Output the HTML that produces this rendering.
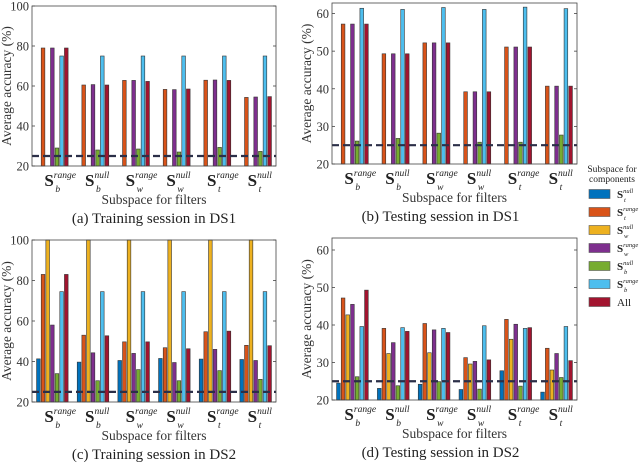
<!DOCTYPE html>
<html><head><meta charset="utf-8"><style>
body{margin:0;background:#fff;}
svg{display:block;font-family:"Liberation Serif","DejaVu Serif",serif;}
</style></head><body>
<svg id="c" width="640" height="468" xmlns="http://www.w3.org/2000/svg" font-family="Liberation Serif, DejaVu Serif, serif"></svg>
<script>
const categories = ['range|b','null|b','range|w','null|w','range|t','null|t'];
const seriesNames = ['null|t','range|t','null|w','range|w','null|b','range|b','All'];
const seriesColors = ['#0072BD','#D95319','#EDB120','#7E2F8E','#77AC30','#4DBEEE','#A2142F'];
const ticksA = [20,40,60,80,100];
const ticksB = [20,30,40,50,60];
const chance = 25;
const valsA = [[0,79,0,79,29,75,79],[0,60.5,0,60.7,28,75,60.5],[0,62.8,0,62.8,28.5,75,62.3],[0,58.3,0,58.2,27,75,58.5],[0,62.9,0,63,29.3,75,62.8],[0,54.3,0,54.5,27.3,75,54.7]];
const valsB = [[0,57.2,0,57.2,26.1,61.4,57.2],[0,49.3,0,49.3,26.8,61.1,49.3],[0,52.2,0,52.2,28.2,61.6,52.2],[0,39.2,0,39.2,25.8,61.1,39.2],[0,51.1,0,51.1,25.8,61.7,51.1],[0,40.7,0,40.7,27.7,61.3,40.7]];
const valsC = [[41.3,83,100,58,34,74.5,83],[39.7,53,100,44.3,30.5,74.5,52.7],[40.5,49.7,100,44,36,74.5,49.7],[41.5,46.8,100,39.5,30.5,74.5,46.3],[41.2,54.7,100,46,35.5,74.5,55],[41,48,100,40.5,31.2,74.5,47.8]];
const valsD = [[24.5,47.2,42.7,45.5,26.2,39.6,49.3],[23.1,39.1,32.4,35.3,23.8,39.3,38.3],[24.2,40.4,32.6,38.7,24.9,39.1,38],[22.8,31.3,29.6,30.3,22.9,39.8,30.7],[27.8,41.5,36.2,40.2,23.7,39.1,39.3],[22.1,33.8,28,32.4,26,39.6,30.5]];
const captions = ['(a) Training session in DS1','(b) Testing session in DS1','(c) Training session in DS2','(d) Testing session in DS2'];

const NS='http://www.w3.org/2000/svg';
const svg=document.getElementById('c');
function mk(t,a,p){const e=document.createElementNS(NS,t);for(const k in a)e.setAttribute(k,a[k]);(p||svg).appendChild(e);return e;}

function drawPanel(id,L,R,T,B,ymin,ymax,ticks,vals,cap){
  const g=mk('g',{});
  
  
  const y=v=>B-(Math.max(ymin,Math.min(ymax,v))-ymin)/(ymax-ymin)*(B-T);
  const gw=(R-L)/categories.length;
  const xc=i=>L+gw*(i+0.5);
  const bw=gw*0.8/seriesNames.length;
  vals.forEach((row,i)=>{row.forEach((v,s)=>{
    if(v<=ymin)return;
    const x0=xc(i)-gw*0.4+s*bw;
    const r=mk('rect',{x:x0+0.5,y:y(v),width:bw-1,height:B-y(v),fill:seriesColors[s],stroke:'#333',"stroke-width":0.6},g);
    
    
  });});
  const d=mk('line',{x1:L,x2:R,y1:y(chance),y2:y(chance),stroke:'#2b2f48',"stroke-width":2.2,"stroke-dasharray":'7,4'},g);
  
  
  const ax=mk('rect',{x:L,y:T,width:R-L,height:B-T,fill:'none',stroke:'#444',"stroke-width":0.8},g);
  
  
  ticks.forEach(t=>{
    mk('line',{x1:L,x2:L+3,y1:y(t),y2:y(t),stroke:'#444',"stroke-width":0.8},g);
    mk('line',{x1:R,x2:R-3,y1:y(t),y2:y(t),stroke:'#444',"stroke-width":0.8},g);
    const tx=mk('text',{x:L-3,y:y(t)+4.5,"text-anchor":'end',"font-size":12.5,fill:'#333'},g);
    tx.textContent=t;
    
    
  });
  categories.forEach((c,i)=>{
    const [sup,sub]=c.split('|');
    const t=mk('text',{x:xc(i)-8,y:B+20,"font-size":17,fill:'#222'},g);
    
    
    const s=mk('tspan',{"font-weight":'bold'},t);s.textContent='S';
    const a=mk('tspan',{dy:-8,"font-size":9.5,"font-style":'italic'},t);a.textContent=sup;
    const b=mk('tspan',{x:xc(i)+3,dy:14,"font-size":9.5,"font-style":'italic'},t);b.textContent=sub;
  });
  const xt=mk('text',{x:(L+R)/2,y:B+38,"text-anchor":'middle',"font-size":13.5,fill:'#333'},g);
  xt.textContent='Subspace for filters';
  
  
  const yt=mk('text',{x:0,y:0,"text-anchor":'middle',"font-size":13.5,fill:'#333',transform:`translate(${L-21},${(T+B)/2}) rotate(-90)`},g);
  yt.textContent='Average accuracy (%)';
  
  
  const ct=mk('text',{x:(L+R)/2+(id==='b'||id==='d'?-14:0),y:B+57,"text-anchor":'middle',"font-size":15,fill:'#222'},g);
  ct.textContent=cap;
  
  
}
drawPanel('a',32,276,6,166,20,100,ticksA,valsA,captions[0]);
drawPanel('b',332,577,3,164,20,62.8,ticksB,valsB,captions[1]);
drawPanel('c',32,276,240,402,20,100,ticksA,valsC,captions[2]);
drawPanel('d',332,577,238,400,20,63.2,ticksB,valsD,captions[3]);

const lg=mk('g',{});


const l1=mk('text',{x:612,y:172,"text-anchor":'middle',"font-size":9.5,fill:'#222'},lg);l1.textContent='Subspace for';
const l2=mk('text',{x:612,y:182,"text-anchor":'middle',"font-size":9.5,fill:'#222'},lg);l2.textContent='components';
seriesNames.forEach((n,s)=>{
  const cy=194+s*18;
  const e=mk('g',{},lg);
  
  
  mk('rect',{x:589,y:cy-4.5,width:21,height:9,fill:seriesColors[s],stroke:'#555',"stroke-width":0.6},e);
  const t=mk('text',{x:617,y:cy+4,"font-size":11,fill:'#222'},e);
  if(n==='All'){t.textContent='All';}
  else{const [sup,sub]=n.split('|');
    const a=mk('tspan',{"font-weight":'bold'},t);a.textContent='S';
    const b=mk('tspan',{dy:-5,"font-size":6.5,"font-style":'italic'},t);b.textContent=sup;
    const c=mk('tspan',{x:624,dy:9,"font-size":6.5,"font-style":'italic'},t);c.textContent=sub;}
});
</script>
</body></html>
